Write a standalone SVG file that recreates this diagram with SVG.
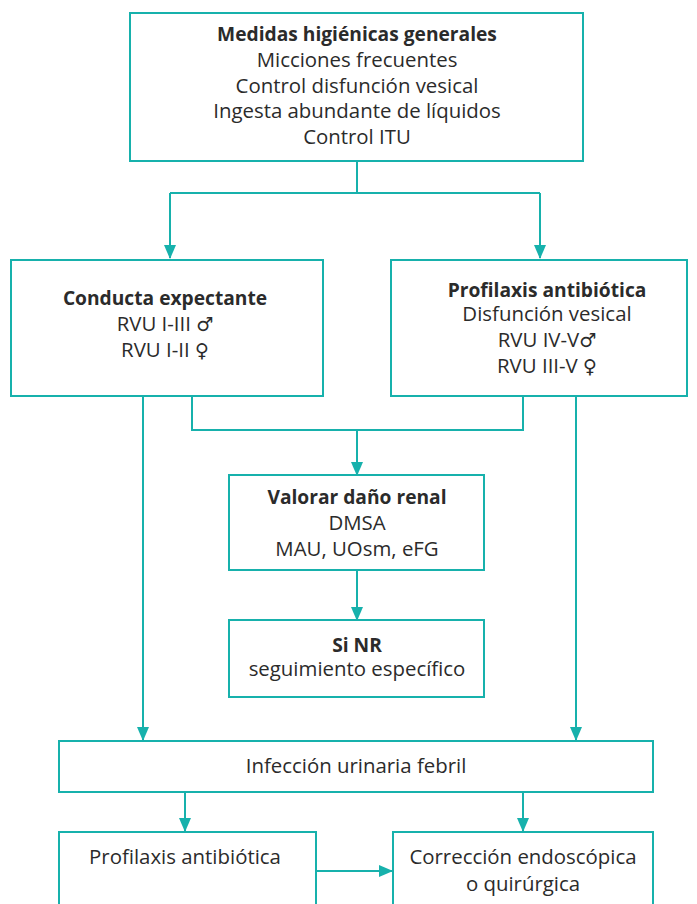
<svg xmlns="http://www.w3.org/2000/svg" width="697" height="904" viewBox="0 0 697 904">
<style>
.box{fill:#fff;stroke:#17b1ac;stroke-width:2}
.ln{fill:none;stroke:#17b1ac;stroke-width:2}
text{font-family:"Open Sans","Noto Sans",sans-serif;font-size:20.4px;fill:#2b2b2b;text-anchor:middle}
.b{font-weight:bold;font-size:19.2px}
.s{font-family:"DejaVu Sans",sans-serif;font-size:19px}
</style>
<defs>
<marker id="ah" markerWidth="14" markerHeight="12" refX="13" refY="6" orient="auto" markerUnits="userSpaceOnUse">
<path d="M0,0 L14,6 L0,12 z" fill="#17b1ac"/>
</marker>
</defs>
<rect width="697" height="904" fill="#fff"/>
<g id="connectors">
<path class="ln" d="M357,161 V193 M170,193 H540"/>
<path class="ln" d="M170,193 V258" marker-end="url(#ah)"/>
<path class="ln" d="M540,193 V258" marker-end="url(#ah)"/>
<path class="ln" d="M192,396 V430 H523 V396"/>
<path class="ln" d="M357,430 V475" marker-end="url(#ah)"/>
<path class="ln" d="M357,570 V620" marker-end="url(#ah)"/>
<path class="ln" d="M143,396 V740" marker-end="url(#ah)"/>
<path class="ln" d="M576,396 V740" marker-end="url(#ah)"/>
<path class="ln" d="M185,792 V831" marker-end="url(#ah)"/>
<path class="ln" d="M523,792 V831" marker-end="url(#ah)"/>
<path class="ln" d="M316,871 H392" marker-end="url(#ah)"/>
</g>
<g id="n-medidas">
<rect class="box" x="130" y="13" width="453" height="148"/>
<text class="b" x="357" y="41">Medidas higiénicas generales</text>
<text x="357" y="67">Micciones frecuentes</text>
<text x="357" y="93">Control disfunción vesical</text>
<text x="357" y="118">Ingesta abundante de líquidos</text>
<text x="357" y="144">Control ITU</text>
</g>
<g id="n-conducta">
<rect class="box" x="11" y="260" width="312" height="136"/>
<text class="b" x="165" y="305">Conducta expectante</text>
<text x="165" y="331">RVU I-III <tspan class="s">♂</tspan></text>
<text x="165" y="357">RVU I-II <tspan class="s">♀</tspan></text>
</g>
<g id="n-profilaxis">
<rect class="box" x="391" y="260" width="296" height="136"/>
<text class="b" x="547" y="297">Profilaxis antibiótica</text>
<text x="547" y="321">Disfunción vesical</text>
<text x="547" y="347">RVU IV-V<tspan class="s">♂</tspan></text>
<text x="547" y="373">RVU III-V <tspan class="s">♀</tspan></text>
</g>
<g id="n-valorar">
<rect class="box" x="229" y="475" width="255" height="95"/>
<text class="b" x="357" y="504">Valorar daño renal</text>
<text x="357" y="530">DMSA</text>
<text x="357" y="556">MAU, UOsm, eFG</text>
</g>
<g id="n-sinr">
<rect class="box" x="229" y="620" width="255" height="77"/>
<text class="b" x="357" y="652">Si NR</text>
<text x="357" y="676">seguimiento específico</text>
</g>
<g id="n-infeccion">
<rect class="box" x="59" y="741" width="594" height="51"/>
<text x="356" y="773">Infección urinaria febril</text>
</g>
<g id="n-profilaxis2">
<rect class="box" x="59" y="832" width="257" height="80"/>
<text x="185" y="864">Profilaxis antibiótica</text>
</g>
<g id="n-correccion">
<rect class="box" x="393" y="832" width="260" height="80"/>
<text x="523" y="864">Corrección endoscópica</text>
<text x="523" y="891">o quirúrgica</text>
</g>
</svg>
